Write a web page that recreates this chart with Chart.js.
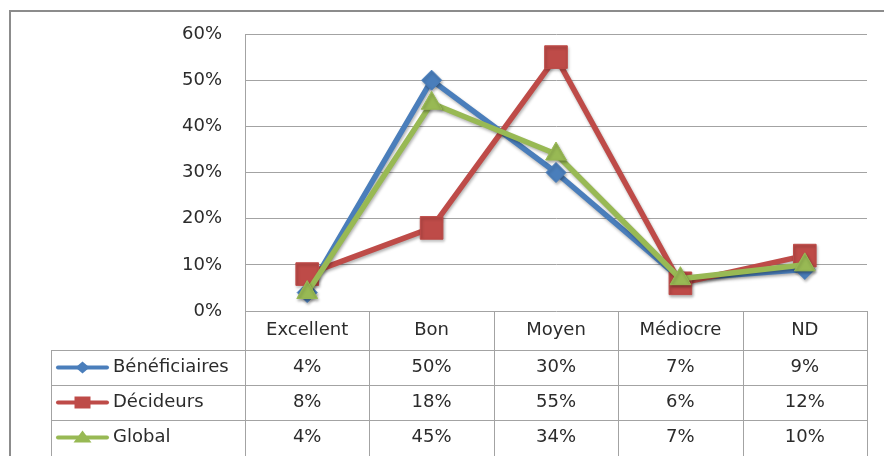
<!DOCTYPE html>
<html>
<head>
<meta charset="utf-8">
<script src="https://cdn.jsdelivr.net/npm/chart.js@4/dist/chart.umd.min.js"></script>
<style>
  html, body { margin: 0; padding: 0; background: #ffffff; }
  #wrap { width: 884px; height: 456px; }
</style>
</head>
<body>
<div id="wrap"><canvas id="c" width="884" height="456"></canvas></div>
<script>
// Categories and series (percentages)
const categories = ['Excellent', 'Bon', 'Moyen', 'Médiocre', 'ND'];
const beneficiaires = [4, 50, 30, 7, 9];
const decideurs = [8, 18, 55, 6, 12];
const global = [4, 45, 34, 7, 10];
const seriesNames = ['Bénéficiaires', 'Décideurs', 'Global'];
const yTicks = [0, 10, 20, 30, 40, 50, 60];

const BLUE = '#4a7ebb';
const RED = '#be4b48';
const GREEN = '#98b954';
const GRID = '#a3a3a3';
const TEXT = '#2b2b2b';
const FONT = '"DejaVu Sans", sans-serif';

const seriesData = [beneficiaires, decideurs, global];
const seriesColors = [BLUE, RED, GREEN];
const seriesStyles = ['rectRot', 'rect', 'triangle'];
const seriesRadius = [10, 16, 12];

// Soft drop shadow under lines and markers
const shadowPlugin = {
  id: 'shadow',
  beforeDatasetsDraw(chart) {
    const ctx = chart.ctx;
    ctx.save();
    ctx.shadowColor = 'rgba(0,0,0,0.3)';
    ctx.shadowBlur = 3;
    ctx.shadowOffsetX = 1;
    ctx.shadowOffsetY = 2;
  },
  afterDatasetsDraw(chart) {
    chart.ctx.restore();
  }
};

// Frame and data table underneath the plot
const tablePlugin = {
  id: 'dataTable',
  afterDraw(chart) {
    const ctx = chart.ctx;
    const area = chart.chartArea;
    const xs = chart.scales.x;
    const left = area.left, right = area.right, top = area.bottom;
    const colW = (right - left) / categories.length;
    const headerBottom = top + 39;
    const rowH = 35;
    const tableLeft = 51;
    const canvasBottom = chart.height;

    ctx.save();
    // outer frame
    ctx.strokeStyle = '#8c8c8c';
    ctx.lineWidth = 2;
    ctx.beginPath();
    ctx.moveTo(10, chart.height);
    ctx.lineTo(10, 11);
    ctx.lineTo(chart.width, 11);
    ctx.stroke();

    // table grid
    ctx.strokeStyle = GRID;
    ctx.lineWidth = 1;
    ctx.beginPath();
    for (let i = 0; i <= categories.length; i++) {
      const x = Math.round(left + i * colW) + 0.5;
      ctx.moveTo(x, top);
      ctx.lineTo(x, canvasBottom);
    }
    ctx.moveTo(tableLeft + 0.5, headerBottom);
    ctx.lineTo(tableLeft + 0.5, canvasBottom);
    for (let r = 0; r < seriesNames.length; r++) {
      const y = Math.round(headerBottom + r * rowH) + 0.5;
      ctx.moveTo(tableLeft, y);
      ctx.lineTo(right, y);
    }
    ctx.stroke();

    // header labels
    ctx.fillStyle = TEXT;
    ctx.font = '18px ' + FONT;
    ctx.textAlign = 'center';
    ctx.textBaseline = 'middle';
    categories.forEach((c, i) => {
      ctx.fillText(c, xs.getPixelForValue(i), (top + headerBottom) / 2);
    });

    // rows: legend key + values
    seriesNames.forEach((name, r) => {
      const cy = headerBottom + r * rowH + rowH / 2;
      const color = seriesColors[r];
      ctx.strokeStyle = color;
      ctx.lineWidth = 4;
      ctx.lineCap = 'round';
      ctx.beginPath();
      ctx.moveTo(58, cy);
      ctx.lineTo(107, cy);
      ctx.stroke();
      ctx.fillStyle = color;
      const mx = 82.5;
      ctx.beginPath();
      if (seriesStyles[r] === 'rectRot') {
        ctx.moveTo(mx - 7, cy); ctx.lineTo(mx, cy - 6); ctx.lineTo(mx + 7, cy); ctx.lineTo(mx, cy + 6);
      } else if (seriesStyles[r] === 'rect') {
        ctx.rect(mx - 8, cy - 6, 16, 12);
      } else {
        ctx.moveTo(mx, cy - 7); ctx.lineTo(mx + 9, cy + 5); ctx.lineTo(mx - 9, cy + 5);
      }
      ctx.closePath();
      ctx.fill();

      ctx.fillStyle = TEXT;
      ctx.textAlign = 'left';
      ctx.fillText(name, 113, cy);
      ctx.textAlign = 'center';
      seriesData[r].forEach((v, i) => {
        ctx.fillText(v + '%', xs.getPixelForValue(i), cy);
      });
    });
    ctx.restore();
  }
};

new Chart(document.getElementById('c'), {
  type: 'line',
  data: {
    labels: categories,
    datasets: seriesNames.map((name, i) => ({
      label: name,
      data: seriesData[i],
      borderColor: seriesColors[i],
      backgroundColor: seriesColors[i],
      borderWidth: 5.5,
      tension: 0,
      borderJoinStyle: 'round',
      borderCapStyle: 'round',
      pointStyle: seriesStyles[i],
      pointRadius: seriesRadius[i],
      pointBorderWidth: 1,
      pointBorderColor: seriesColors[i],
      pointBackgroundColor: seriesColors[i],
      order: 2 - i,
      fill: false,
      clip: false
    }))
  },
  options: {
    responsive: false,
    animation: false,
    devicePixelRatio: 1,
    layout: { padding: { left: 0, top: 34, right: 16, bottom: 145 } },
    plugins: {
      legend: { display: false },
      tooltip: { enabled: false }
    },
    scales: {
      x: {
        type: 'category',
        display: false,
        offset: true
      },
      y: {
        min: 0,
        max: 60,
        afterFit(scale) { scale.width = 245; },
        afterBuildTicks(scale) { scale.ticks = yTicks.map(v => ({ value: v })); },
        ticks: {
          padding: 23,
          color: TEXT,
          font: { family: FONT, size: 18 },
          callback: v => v + '%'
        },
        grid: { color: GRID, lineWidth: 1, drawTicks: false },
        border: { color: GRID, width: 1 }
      }
    }
  },
  plugins: [shadowPlugin, tablePlugin]
});
</script>
</body>
</html>
